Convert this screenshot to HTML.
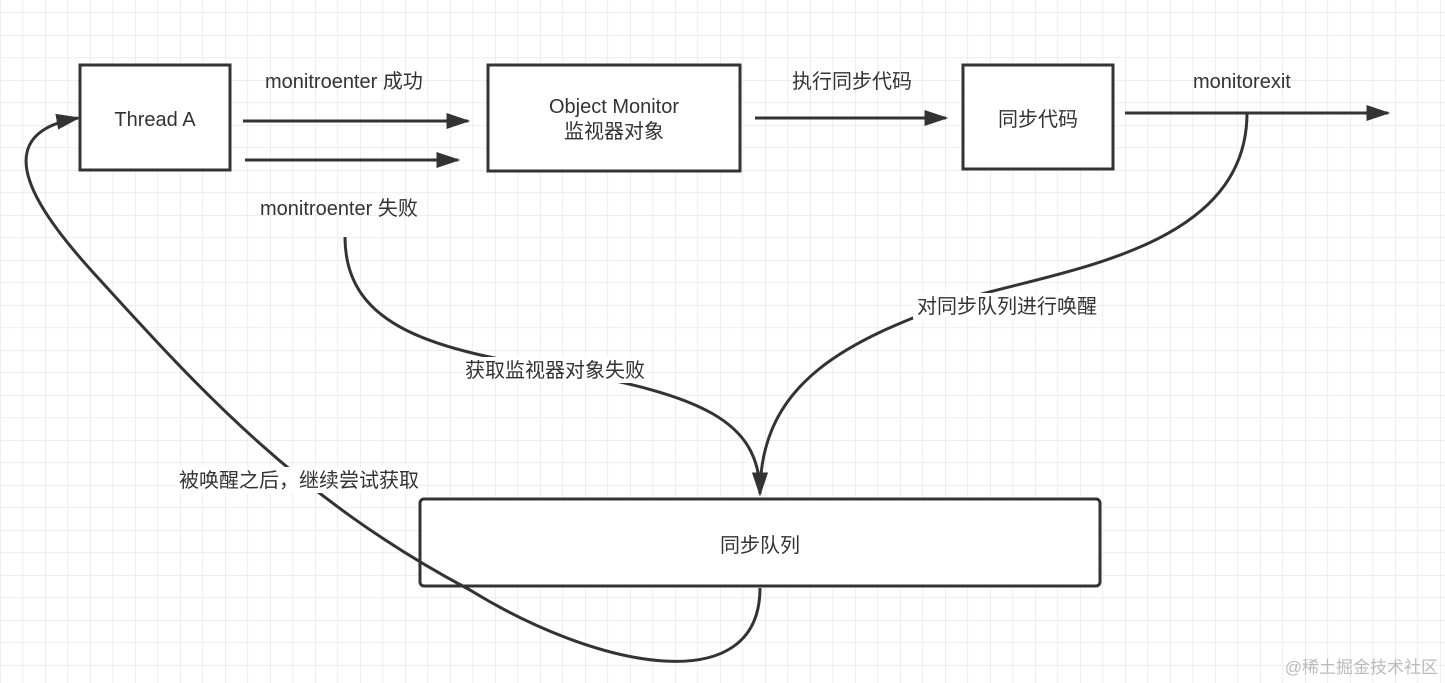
<!DOCTYPE html>
<html><head><meta charset="utf-8"><style>
html,body{margin:0;padding:0;background:#fff}
svg{display:block}
text{font-family:"Liberation Sans","Noto Sans CJK SC",sans-serif;font-size:20px;fill:#333}
</style></head><body>
<svg width="1445" height="683" viewBox="0 0 1445 683" xmlns="http://www.w3.org/2000/svg">
<defs>
<pattern id="g" x="0" y="12.5" width="22.5" height="22.5" patternUnits="userSpaceOnUse">
<path d="M0 0H22.5M0 0V22.5" stroke="#e3e3e3" stroke-width="1.2" fill="none"/>
</pattern>
<marker id="b" viewBox="0 0 10 10" refX="9" refY="5" markerWidth="24" markerHeight="16" orient="auto" markerUnits="userSpaceOnUse" preserveAspectRatio="none">
<path d="M0 0L10 5L0 10z" fill="#333"/>
</marker>
</defs>
<rect width="1445" height="683" fill="#fff"/>
<rect width="1445" height="683" fill="url(#g)"/>
<g fill="#fff" stroke="#333" stroke-width="3">
<rect x="80" y="65" width="150" height="105"/>
<rect x="488" y="65" width="252" height="106"/>
<rect x="963" y="65" width="150" height="104"/>
<rect x="420" y="499" width="680" height="87" rx="4"/>
</g>
<g stroke="#333" stroke-width="3" fill="none">
<path d="M243 121H468" marker-end="url(#b)"/>
<path d="M245 160H458" marker-end="url(#b)"/>
<path d="M755 118H946" marker-end="url(#b)"/>
<path d="M1125 113H1388" marker-end="url(#b)"/>
<path d="M345 237C345 330 440 350 560 370C700 395 760 420 760 494" marker-end="url(#b)"/>
<path d="M1247 113C1247 250 1060 270 960 300C850 340 760 380 760 494" marker-end="url(#b)"/>
<path d="M760 588C760 700 600 670 470 590C300 500 200 390 100 280C40 215 -20 135 78 118" marker-end="url(#b)"/>
</g>
<g fill="#fff">
<rect x="463" y="357" width="180" height="26"/>
<rect x="913" y="293" width="182" height="26"/>
<rect x="176" y="467" width="240" height="26"/>
</g>
<text x="155" y="126" text-anchor="middle">Thread A</text>
<text x="614" y="113" text-anchor="middle">Object Monitor</text>
<text x="614" y="138" text-anchor="middle">监视器对象</text>
<text x="1038" y="126" text-anchor="middle">同步代码</text>
<text x="760" y="552" text-anchor="middle">同步队列</text>
<text x="265" y="88">monitroenter 成功</text>
<text x="260" y="215">monitroenter 失败</text>
<text x="792" y="88">执行同步代码</text>
<text x="1193" y="88">monitorexit</text>
<text x="917" y="313">对同步队列进行唤醒</text>
<text x="465" y="377">获取监视器对象失败</text>
<text x="179" y="487">被唤醒之后，继续尝试获取</text>
<text x="1438" y="673" text-anchor="end" style="font-size:17px;fill:#bbb">@稀土掘金技术社区</text>
</svg>
</body></html>
